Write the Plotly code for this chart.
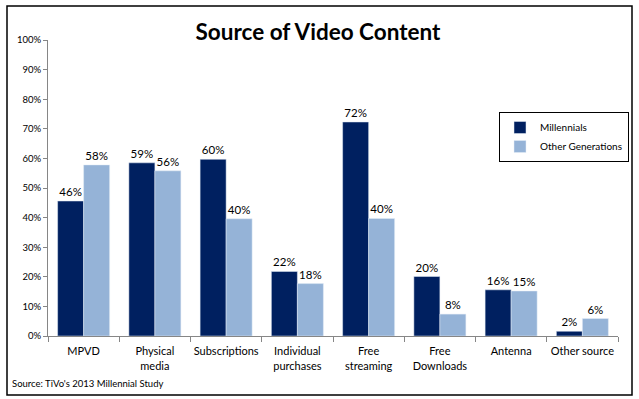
import plotly.graph_objects as go

categories = ["MPVD", "Physical<br>media", "Subscriptions", "Individual<br>purchases",
              "Free<br>streaming", "Free<br>Downloads", "Antenna", "Other source"]
millennials = [45.6, 58.5, 59.7, 21.8, 72.3, 20.1, 15.6, 1.6]
other_gen = [57.8, 55.8, 39.6, 17.7, 39.7, 7.4, 15.2, 5.9]
mill_labels = ["46%", "59%", "60%", "22%", "72%", "20%", "16%", "2%"]
other_labels = ["58%", "56%", "40%", "18%", "40%", "8%", "15%", "6%"]
y_ticks = [0, 10, 20, 30, 40, 50, 60, 70, 80, 90, 100]

W, H = 639, 399
L, R, T, B = 48, 21, 40, 63
pw, ph = W - L - R, H - T - B

def px_x(x):
    return (x - L) / pw

def px_y(y):
    return (H - B - y) / ph

font = "Lato, Calibri, 'Liberation Sans', sans-serif"

fig = go.Figure()
fig.add_trace(go.Bar(x=categories, y=millennials, name="Millennials",
                     marker_color="#002060", text=mill_labels, textposition="outside",
                     textfont=dict(size=11.5, color="#000000"), cliponaxis=False))
fig.add_trace(go.Bar(x=categories, y=other_gen, name="Other Generations",
                     marker_color="#95B3D7", text=other_labels, textposition="outside",
                     textfont=dict(size=11.5, color="#000000"), cliponaxis=False))

fig.update_layout(
    width=W, height=H,
    margin=dict(l=L, r=R, t=T, b=B, autoexpand=False),
    paper_bgcolor="white", plot_bgcolor="white",
    font=dict(family=font, color="#000000"),
    barmode="group", bargap=0.27, bargroupgap=0,
    title=dict(text="<b>Source of Video Content</b>", x=318 / W, xanchor="center", xref="container",
               yref="container", y=1 - 32 / H, yanchor="middle",
               font=dict(size=22.5, family=font), automargin=False),
    showlegend=True,
    legend=dict(x=px_x(499), y=px_y(112), xanchor="left", yanchor="top",
                bordercolor="#000000", borderwidth=1, bgcolor="white",
                font=dict(size=10, family=font), itemwidth=30,
                tracegroupgap=0),
    xaxis=dict(showline=True, linecolor="#868686", linewidth=1,
               ticks="outside", tickson="boundaries", ticklen=5, tickcolor="#868686",
               tickangle=0, automargin=False, ticklabelstandoff=5,
               tickfont=dict(size=11, family=font), showgrid=False),
    yaxis=dict(range=[0, 100], tickvals=y_ticks, ticktext=[f"{v}%" for v in y_ticks],
               showline=True, linecolor="#868686", linewidth=1,
               ticks="outside", ticklen=4, tickcolor="#868686",
               showgrid=False, zeroline=False, automargin=False,
               tickfont=dict(size=9.5, family=font)),
)

# outer border
fig.add_shape(type="rect", xref="paper", yref="paper",
              x0=px_x(7), x1=px_x(632), y0=px_y(395), y1=px_y(6),
              line=dict(color="#000000", width=1.5), fillcolor="rgba(0,0,0,0)", layer="below")

fig.add_annotation(text="Source: TiVo's 2013 Millennial Study", xref="paper", yref="paper",
                   x=px_x(10), y=px_y(383), xanchor="left", yanchor="middle",
                   showarrow=False, font=dict(size=9.5, family=font))

fig.write_html("out.html", config={"displayModeBar": False},
               post_script="document.body.style.margin='0';document.body.style.overflow='hidden';")
